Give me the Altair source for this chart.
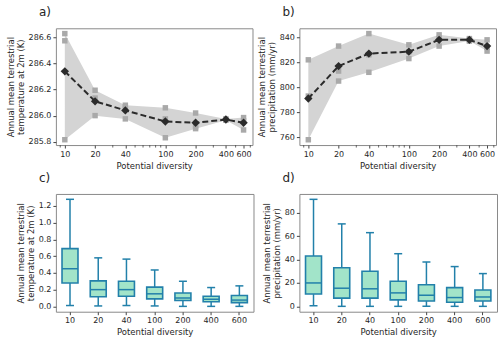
import altair as alt
import pandas as pd

# Potential diversity levels
diversity = [10, 20, 40, 100, 200, 400, 600]
div_labels = ["10", "20", "40", "100", "200", "400", "600"]

# Ensemble members (three runs) and ensemble mean: 2 m temperature (K)
temp_run1 = [286.63, 286.195, 286.08, 286.06, 286.02, 285.975, 285.985]
temp_run2 = [286.575, 286.135, 286.065, 285.975, 285.915, 285.970, 285.960]
temp_run3 = [285.815, 286.000, 285.975, 285.830, 285.900, 285.965, 285.890]
temp_mean = [286.34, 286.11, 286.04, 285.955, 285.945, 285.97, 285.945]

# Ensemble members and mean: precipitation (mm/yr)
prec_run1 = [822, 833, 843, 834, 842, 839, 838]
prec_run2 = [793, 813, 826, 828.5, 839, 838, 832]
prec_run3 = [758, 805, 812, 823, 833, 837, 829]
prec_mean = [791, 817, 827, 828.5, 838, 838, 833]

# Box statistics of local differences: whisker low, q1, median, q3, whisker high
temp_lo = [0.01, 0.005, 0.01, 0.005, 0.0, 0.0, 0.0]
temp_q1 = [0.28, 0.115, 0.12, 0.09, 0.07, 0.055, 0.045]
temp_med = [0.45, 0.20, 0.20, 0.15, 0.10, 0.085, 0.075]
temp_q3 = [0.69, 0.305, 0.30, 0.23, 0.16, 0.12, 0.13]
temp_hi = [1.28, 0.58, 0.565, 0.435, 0.30, 0.225, 0.245]

prec_lo = [0.5, 0, 0, 0, 0, 0, 0]
prec_q1 = [10.5, 7, 7, 5.5, 4.5, 3.5, 4.5]
prec_med = [20, 15.5, 15, 11.5, 9.5, 7.5, 8]
prec_q3 = [43, 33, 30, 21.5, 18.5, 16, 14]
prec_hi = [91.5, 70.5, 63, 45, 38, 34, 28]

minor_ticks = [9, 30, 50, 60, 70, 80, 90, 300, 500, 700]

W, H = 197, 117
FONT = "DejaVu Sans"
TXT = "#262626"
GREY_FILL = "#d4d4d4"
GREY_PT = "#a9a9a9"
DARK = "#2b2b2b"
BOX_FILL = "#a2e4c9"
BOX_EDGE = "#2280aa"


def panel_title(text):
    return alt.TitleParams(text, anchor="start", frame="group", dx=-17, offset=9,
                           fontSize=12, fontWeight="normal", font=FONT, color=TXT)


def y_axis(ticks, title, fmt):
    return alt.Axis(values=ticks, format=fmt, title=title, grid=False,
                    labelOverlap=False, labelFlush=False, labelBound=False)


def ensemble_panel(label, runs, mean, ydomain, yticks, ytitle, yfmt):
    rows = []
    for i, d in enumerate(diversity):
        vals = [r[i] for r in runs]
        rows.append({"div": d, "lo": min(vals), "hi": max(vals), "mean": mean[i]})
    band = pd.DataFrame(rows)
    pts = pd.DataFrame([{"div": d, "val": r[i]} for r in runs for i, d in enumerate(diversity)])
    minor = pd.DataFrame({"div": minor_ticks})

    xsc = alt.Scale(type="log", domain=[8.15, 736], nice=False)
    ysc = alt.Scale(domain=ydomain, nice=False, zero=False)
    xax = alt.Axis(values=diversity, labelExpr="format(datum.value, 'd')",
                   title="Potential diversity", grid=False, labelOverlap=False)
    yax = y_axis(yticks, ytitle, yfmt)

    area = alt.Chart(band).mark_area(color=GREY_FILL, opacity=1).encode(
        x=alt.X("div:Q", scale=xsc, axis=xax),
        y=alt.Y("lo:Q", scale=ysc, axis=yax),
        y2="hi:Q",
    )
    squares = alt.Chart(pts).mark_point(shape="square", filled=True, size=30,
                                        color=GREY_PT, opacity=1).encode(
        x=alt.X("div:Q", axis=xax), y=alt.Y("val:Q", axis=yax))
    line = alt.Chart(band).mark_line(color=DARK, strokeWidth=2, strokeDash=[6, 3]).encode(
        x=alt.X("div:Q", axis=xax), y=alt.Y("mean:Q", axis=yax))
    diamonds = alt.Chart(band).mark_point(shape="diamond", filled=True, size=70,
                                          color=DARK, opacity=1).encode(
        x=alt.X("div:Q", axis=xax), y=alt.Y("mean:Q", axis=yax))
    minor_marks = alt.Chart(minor).mark_rule(color="#444", strokeWidth=0.8).encode(
        x=alt.X("div:Q", axis=xax), y=alt.value(H), y2=alt.value(H + 2.5))
    return alt.layer(area, squares, line, diamonds, minor_marks).properties(
        width=W, height=H, title=panel_title(label))


def box_panel(label, lo, q1, med, q3, hi, ydomain, yticks, ytitle, yfmt):
    df = pd.DataFrame({"div": div_labels, "lo": lo, "q1": q1, "med": med, "q3": q3, "hi": hi})
    xsc = alt.Scale(domain=div_labels, paddingInner=0, paddingOuter=0)
    ysc = alt.Scale(domain=ydomain, nice=False, zero=False)
    xax = alt.Axis(title="Potential diversity", labelAngle=0, grid=False, labelOverlap=False)
    yax = y_axis(yticks, ytitle, yfmt)
    base = alt.Chart(df)
    x = alt.X("div:N", scale=xsc, axis=xax, sort=div_labels)
    w_low = base.mark_rule(color=BOX_EDGE, strokeWidth=1.5).encode(
        x=x, y=alt.Y("lo:Q", scale=ysc, axis=yax), y2="q1:Q")
    w_high = base.mark_rule(color=BOX_EDGE, strokeWidth=1.5).encode(
        x=x, y=alt.Y("q3:Q", axis=yax), y2="hi:Q")
    box = base.mark_bar(size=16, fill=BOX_FILL, stroke=BOX_EDGE, strokeWidth=1.6).encode(
        x=x, y=alt.Y("q1:Q", axis=yax), y2="q3:Q")
    median = base.mark_tick(size=16, thickness=1.5, color=BOX_EDGE, opacity=1).encode(
        x=x, y=alt.Y("med:Q", axis=yax))
    cap_lo = base.mark_tick(size=8, thickness=1.5, color=BOX_EDGE, opacity=1).encode(
        x=x, y=alt.Y("lo:Q", axis=yax))
    cap_hi = base.mark_tick(size=8, thickness=1.5, color=BOX_EDGE, opacity=1).encode(
        x=x, y=alt.Y("hi:Q", axis=yax))
    return alt.layer(w_low, w_high, box, median, cap_lo, cap_hi).properties(
        width=W + 1, height=H + 1, title=panel_title(label))


pa = ensemble_panel("a)", [temp_run1, temp_run2, temp_run3], temp_mean,
                    [285.774, 286.671], [285.8, 286.0, 286.2, 286.4, 286.6],
                    ["Annual mean terrestrial", "temperature at 2m (K)"], ".1f")
pb = ensemble_panel("b)", [prec_run1, prec_run2, prec_run3], prec_mean,
                    [753.75, 847.25], [760, 780, 800, 820, 840],
                    ["Annual mean terrestrial", "precipitation (mm/yr)"], "d")
pc = box_panel("c)", temp_lo, temp_q1, temp_med, temp_q3, temp_hi,
               [-0.064, 1.344], [0.0, 0.2, 0.4, 0.6, 0.8, 1.0, 1.2],
               ["Annual mean terrestrial", "temperature at 2m (K)"], ".1f")
pd_ = box_panel("d)", prec_lo, prec_q1, prec_med, prec_q3, prec_hi,
                [-4.6, 96.1], [0, 20, 40, 60, 80],
                ["Annual mean terrestrial", "precipitation (mm/yr)"], "d")

chart = alt.concat(pa, pb, pc, pd_, columns=2, spacing=alt.RowColnumber(row=49, column=46),
                   bounds="flush").properties(
    padding={"left": 5, "top": 5, "right": 2, "bottom": 2},
    background="white",
).configure_view(
    stroke="#8a8a8a", strokeWidth=1
).configure_axis(
    labelFont=FONT, titleFont=FONT, labelFontSize=8, titleFontSize=8.5,
    labelColor=TXT, titleColor=TXT, titleFontWeight="normal",
    domain=False, tickColor="#444", tickSize=3, labelPadding=2, titlePadding=3,
    titleLineHeight=10, labelOverlap=False, labelFlush=False,
)

chart.save("out.html", embed_options={"renderer": "svg", "actions": False})
